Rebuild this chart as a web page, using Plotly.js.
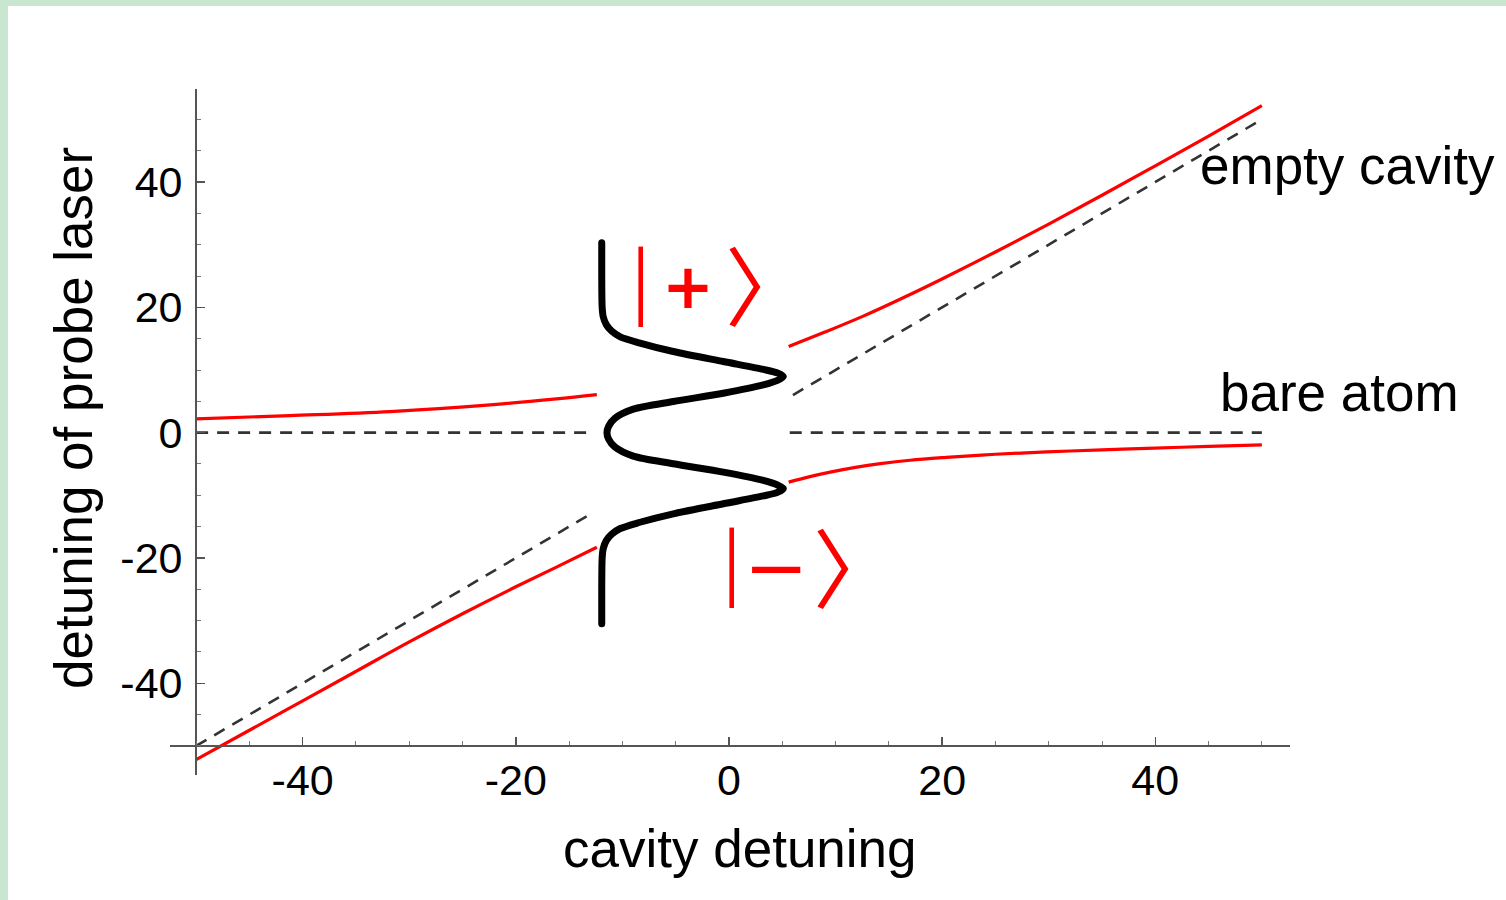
<!DOCTYPE html>
<html>
<head>
<meta charset="utf-8">
<script src="https://cdn.plot.ly/plotly-3.0.1.min.js"></script>
<style>
  html, body { margin: 0; padding: 0; background: #c8e6d0; }
  #chart { position: absolute; left: 8px; top: 6px; width: 1498px; height: 894px; background: #ffffff; }
  /* rounded ends on the thick spectrum curve */
  #chart .scatterlayer .trace:last-child .js-line { stroke-linecap: round; stroke-linejoin: round; }
</style>
</head>
<body>
<div id="chart"></div>
<script>
// Bare atom resonance (horizontal) and empty-cavity resonance (diagonal), gap where the spectrum sits
const bareAtomX = [-50, -13.0, null, 5.7, 50];
const bareAtomY = [0, 0, null, 0, 0];
const emptyCavityX = [-50, -12.9, null, 6.0, 50];
const emptyCavityY = [-50, -12.9, null, 6.0, 50];

// Dressed states |+> (upper branch) and |-> (lower branch)
const upperX = [-50, -41.2, -31.8, -22.4, -16.2, -12.4, null,
                5.6, 9, 12.6, 16, 19.8, 25, 30, 35, 40, 45, 50];
const upperY = [2.2, 2.73, 3.37, 4.44, 5.4, 6.08, null,
                13.75, 16.05, 18.6, 21.25, 24.37, 28.84, 33.29, 37.89, 42.59, 47.34, 52.2];
const lowerX = [-50, -45, -40, -35, -30, -25, -20, -16, -12.4, null,
                5.6, 7.5, 9.5, 12, 14.2, 17, 20.4, 25, 29.8, 35, 39.2, 45, 50];
const lowerY = [-52.2, -47.5, -42.8, -38.1, -33.4, -28.9, -24.6, -21.3, -18.3, null,
                -7.9, -7.05, -6.3, -5.5, -4.95, -4.4, -3.95, -3.45, -3.07, -2.75, -2.5, -2.2, -1.95];

// Transmission spectrum at resonance: probe detuning (y) against signal (x)
const spectrumY = [30.3, 25, 20, 18.5, 17.2, 16.2, 15.3, 14.3, 12.95, 11.35, 10.1, 9.5, 8.96, 8.4, 7.63, 6.3, 4.97, 3.75, 2.3, 1.0, 0,
                   -1.0, -2.3, -3.75, -4.97, -6.3, -7.63, -8.4, -8.9, -9.5, -10.1, -11.35, -12.95, -14.3, -15.3, -16.2, -17.2, -18.5, -20, -25, -30.5];
const spectrumX = [-11.94, -11.94, -11.9, -11.8, -11.5, -11.0, -10.2, -8.35, -5.23, -0.53, 3.22, 4.6, 5.1, 4.6, 3.22, -0.53, -5.23, -8.98, -10.7, -11.3, -11.45,
                   -11.3, -10.7, -8.98, -5.23, -0.53, 3.22, 4.6, 5.1, 4.6, 3.22, -0.53, -5.23, -8.35, -10.2, -11.0, -11.5, -11.8, -11.9, -11.94, -11.94];

const xTickVals = [-40, -20, 0, 20, 40];
const xTickText = ['-40', '-20', '0', '20', '40'];
const yTickVals = [-40, -20, 0, 20, 40];
const yTickText = ['-40', '-20', '0', '20', '40'];

const axisFont = 'Liberation Sans, Arial, sans-serif';
const ketFont = 'Noto Sans CJK JP';
const signFont = 'DejaVu Sans';
const xRange = [-52.45, 52.64];
const yRange = [-54.64, 54.85];

const traces = [
  { x: bareAtomX, y: bareAtomY, mode: 'lines', hoverinfo: 'skip',
    line: { color: '#333333', width: 2.6, dash: '12px,9px' } },
  { x: emptyCavityX, y: emptyCavityY, mode: 'lines', hoverinfo: 'skip',
    line: { color: '#333333', width: 2.6, dash: '12px,9px' } },
  { x: upperX, y: upperY, mode: 'lines', hoverinfo: 'skip',
    line: { color: '#ff0000', width: 3.2, shape: 'spline' } },
  { x: lowerX, y: lowerY, mode: 'lines', hoverinfo: 'skip',
    line: { color: '#ff0000', width: 3.2, shape: 'spline' } },
  { x: spectrumX, y: spectrumY, mode: 'lines', hoverinfo: 'skip',
    line: { color: '#000000', width: 7, shape: 'spline', smoothing: 0.8 } }
];

function xFrac(v) { return (v - xRange[0]) / (xRange[1] - xRange[0]); }
function yFrac(v) { return (v - yRange[0]) / (yRange[1] - yRange[0]); }

function ket(text, x, y, family, size) {
  return { text: text, x: x, y: y, xref: 'x', yref: 'y', showarrow: false,
           xanchor: 'center', yanchor: 'middle', font: { family: family, size: size, color: '#ff0000' } };
}

const layout = {
  width: 1498, height: 894,
  margin: { l: 162, r: 216, t: 83, b: 125 },
  paper_bgcolor: '#ffffff', plot_bgcolor: '#ffffff',
  showlegend: false,
  xaxis: {
    range: xRange, anchor: 'free', position: yFrac(-50),
    showgrid: false, zeroline: false,
    showline: true, linecolor: '#555555', linewidth: 2,
    ticks: 'inside', ticklen: 8, tickwidth: 1.5, tickcolor: '#555555',
    tickvals: xTickVals, ticktext: xTickText,
    tickfont: { family: axisFont, size: 43, color: '#000000' },
    ticklabelstandoff: -4,
    minor: { dtick: 5, tick0: 0, ticks: 'inside', ticklen: 4, tickwidth: 1, tickcolor: '#777777', showgrid: false }
  },
  yaxis: {
    range: yRange, anchor: 'free', position: xFrac(-50),
    showgrid: false, zeroline: false,
    showline: true, linecolor: '#555555', linewidth: 2,
    ticks: 'inside', ticklen: 8, tickwidth: 1.5, tickcolor: '#555555',
    tickvals: yTickVals, ticktext: yTickText,
    tickfont: { family: axisFont, size: 43, color: '#000000' },
    ticklabelstandoff: 4,
    minor: { dtick: 5, tick0: 0, ticks: 'inside', ticklen: 4, tickwidth: 1, tickcolor: '#777777', showgrid: false }
  },
  annotations: [
    { text: 'cavity detuning', x: 0.509, y: -0.107, xref: 'paper', yref: 'paper', showarrow: false,
      xanchor: 'center', yanchor: 'middle', font: { family: axisFont, size: 53, color: '#000000' } },
    { text: 'detuning of probe laser', x: -0.086, y: 0.52, xref: 'paper', yref: 'paper', showarrow: false,
      textangle: -90, xanchor: 'center', yanchor: 'middle', font: { family: axisFont, size: 53, color: '#000000' } },
    { text: 'empty cavity', x: 44.0, y: 42.6, xref: 'x', yref: 'y', showarrow: false,
      xanchor: 'left', yanchor: 'middle', font: { family: axisFont, size: 53, color: '#000000' } },
    { text: 'bare atom', x: 45.9, y: 6.45, xref: 'x', yref: 'y', showarrow: false,
      xanchor: 'left', yanchor: 'middle', font: { family: axisFont, size: 53, color: '#000000' } },
    // |+> ket: bar, sign, closing bracket
    ket('|', -8.26, 25.1, ketFont, 72),
    ket('<b>+</b>', -3.85, 23.4, signFont, 62),
    ket('\u3009', 3.66, 23.9, ketFont, 86),
    // |-> ket
    ket('|', 0.19, -19.7, ketFont, 72),
    ket('\u2212', 4.42, -21.6, signFont, 77),
    ket('\u3009', 11.9, -21.1, ketFont, 86)
  ]
};

Plotly.newPlot('chart', traces, layout, { displayModeBar: false, staticPlot: true });
</script>
</body>
</html>
